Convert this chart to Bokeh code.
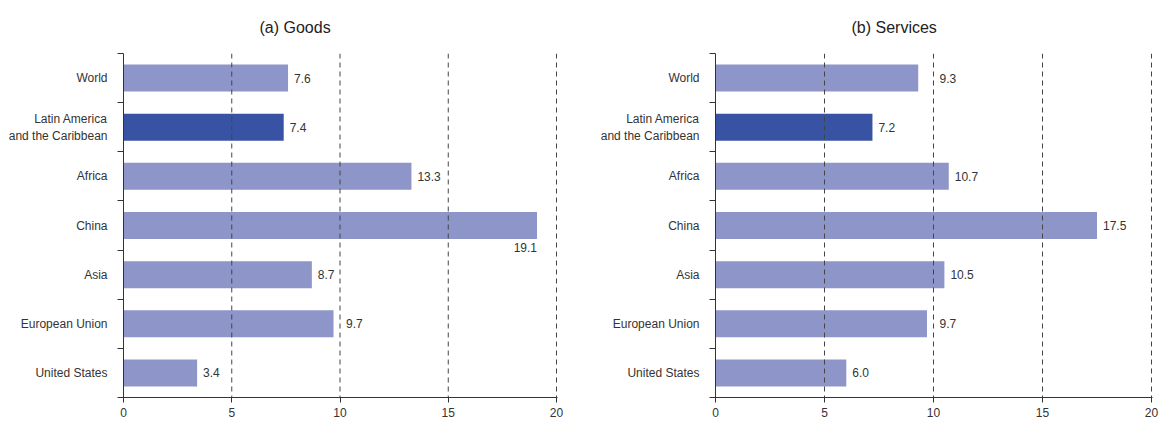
from bokeh.plotting import figure
from bokeh.layouts import row
from bokeh.models import ColumnDataSource, FixedTicker, Range1d, Span
from bokeh.core.properties import value
from bokeh.embed import file_html
from bokeh.resources import INLINE

categories = ["World", "Latin America\nand the Caribbean", "Africa", "China",
              "Asia", "European Union", "United States"]
goods = [7.6, 7.4, 13.3, 19.1, 8.7, 9.7, 3.4]
services = [9.3, 7.2, 10.7, 17.5, 10.5, 9.7, 6.0]
highlight = "Latin America\nand the Caribbean"
x_ticks = [0, 5, 10, 15, 20]
titles = ["(a) Goods", "(b) Services"]

FONT = "Liberation Sans"
LIGHT = "#8e95c8"
DARK = "#3953a4"
TEXT = "#333333"
FS = "12px"
HEIGHT = 423
TOP = 53
BOTTOM = 26


def make_panel(vals, title, width, border_left, border_right, title_offset):
    n = len(categories)
    centers = [n - i - 0.5 for i in range(n)]
    colors = [DARK if c == highlight else LIGHT for c in categories]
    src = ColumnDataSource(dict(y=centers, v=vals, c=colors))
    frame_w = width - border_left - border_right
    xmax = x_ticks[-1]
    upp = xmax / frame_w  # data units per pixel
    p = figure(width=width, height=HEIGHT, output_backend="svg", toolbar_location=None,
               x_range=Range1d(0, xmax + upp), y_range=Range1d(0, n),
               min_border_left=border_left, min_border_right=border_right,
               min_border_top=TOP, min_border_bottom=BOTTOM,
               x_axis_location="below")
    p.outline_line_color = None
    p.background_fill_color = "white"
    p.border_fill_color = "white"

    p.title.text = title
    p.title.align = "left"
    p.title.vertical_align = "top"
    p.title.text_font = FONT
    p.title.text_font_size = "16px"
    p.title.text_font_style = "normal"
    p.title.text_color = "#222222"
    p.title.offset = title_offset
    p.title.standoff = 32

    for t in x_ticks[1:]:
        p.add_layout(Span(location=t, dimension="height", line_color="#444444",
                          line_dash="5 4", line_width=1))

    p.hbar(y="y", right="v", left=0, height=0.55, color="c", line_color=None, source=src)

    # value labels: right of bar end, pushed past a gridline they would cross,
    # or below the bar end if they would not fit in the frame
    pad = 6 * upp
    lab_w = 18 * upp
    rx, ry, rt = [], [], []
    bx, by, bt = [], [], []
    for v, y in zip(vals, centers):
        txt = f"{v:.1f}"
        start = v + pad
        if start + lab_w > xmax:
            bx.append(v); by.append(y); bt.append(txt)
            continue
        for g in x_ticks[1:]:
            if v < g < start + lab_w:
                start = g + pad
        rx.append(start); ry.append(y); rt.append(txt)
    p.text(x=rx, y=ry, text=rt, text_align="left",
           text_baseline="middle", text_font=value(FONT), text_font_size=FS,
           text_color=TEXT)
    if bx:
        p.text(x=bx, y=by, text=bt, y_offset=22, text_align="right",
               text_baseline="middle", text_font=value(FONT), text_font_size=FS,
               text_color=TEXT)

    # x axis
    xa = p.xaxis[0]
    xa.ticker = FixedTicker(ticks=x_ticks)
    xa.major_tick_out = 5
    xa.major_tick_in = 0
    xa.minor_tick_out = 0
    xa.minor_tick_in = 0
    xa.axis_line_color = TEXT
    xa.major_tick_line_color = TEXT
    xa.major_label_text_font = FONT
    xa.major_label_text_font_size = FS
    xa.major_label_text_color = TEXT
    xa.major_label_standoff = 5

    # y axis
    ya = p.yaxis[0]
    ya.ticker = FixedTicker(ticks=centers, minor_ticks=list(range(n + 1)))
    ya.major_label_overrides = {c: lab for c, lab in zip(centers, categories)}
    ya.major_tick_out = 0
    ya.major_tick_in = 0
    ya.minor_tick_out = 6
    ya.minor_tick_in = 0
    ya.minor_tick_line_color = TEXT
    ya.axis_line_color = TEXT
    ya.major_label_text_font = FONT
    ya.major_label_text_font_size = FS
    ya.major_label_text_color = TEXT
    ya.major_label_text_align = "right"
    ya.major_label_standoff = 10

    p.xgrid.grid_line_color = None
    p.ygrid.grid_line_color = None
    return p


p1 = make_panel(goods, titles[0], 579, 123, 22, 136)
p2 = make_panel(services, titles[1], 580, 136, 7, 136)
layout = row(p1, p2, spacing=0)

open("out.html", "w").write(file_html(layout, INLINE))
